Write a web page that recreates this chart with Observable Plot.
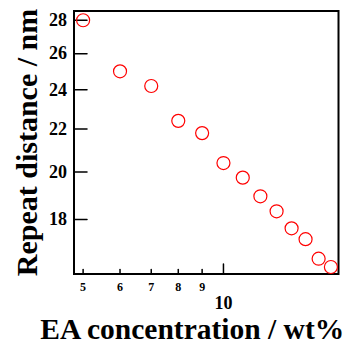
<!DOCTYPE html>
<html>
<head>
<meta charset="utf-8">
<script src="https://cdn.jsdelivr.net/npm/d3@7"></script>
<script src="https://cdn.jsdelivr.net/npm/@observablehq/plot@0.6"></script>
<style>
  html, body { margin: 0; padding: 0; background: #fff; }
</style>
</head>
<body>
<div id="chart"></div>
<script>
const concentration = [5, 6, 7, 8, 9, 10, 11, 12, 13, 14, 15, 16, 17];
const distance = [28.0, 25.0, 24.2, 22.4, 21.8, 20.4, 19.75, 18.95, 18.33, 17.65, 17.23, 16.5, 16.2];
const xMinorTicks = [5, 6, 7, 8, 9];
const xMajorTicks = [10];
const yTicks = [18, 20, 22, 24, 26, 28];
const xTitle = "EA concentration / wt%";
const yTitle = "Repeat distance / nm";

const data = concentration.map((c, i) => ({c, d: distance[i]}));
const tickShape = {draw(ctx, l) { ctx.moveTo(0, 0); ctx.lineTo(0, -l); }};
const font = "Liberation Serif, Times New Roman, serif";

const chart = Plot.plot({
  width: 349,
  height: 342,
  marginLeft: 73.5,
  marginRight: 11,
  marginTop: 10.5,
  marginBottom: 68.5,
  style: {fontFamily: font, fontWeight: "bold", background: "#fff", color: "#000"},
  x: {type: "log", domain: [4.78, 17.65], axis: null},
  y: {type: "log", domain: [15.95, 28.58], axis: null},
  marks: [
    Plot.vector(yTicks.slice(), {y: d => d, frameAnchor: "left", rotate: 90, anchor: "start", length: 13, shape: tickShape, stroke: "#000", strokeWidth: 1.5}),
    Plot.vector(xMinorTicks.slice(), {x: d => d, frameAnchor: "bottom", rotate: 0, anchor: "start", length: 4.5, shape: tickShape, stroke: "#000", strokeWidth: 1.5}),
    Plot.vector(xMajorTicks.slice(), {x: d => d, frameAnchor: "bottom", rotate: 0, anchor: "start", length: 10, shape: tickShape, stroke: "#000", strokeWidth: 1.5}),
    Plot.text(yTicks.slice(), {y: d => d, frameAnchor: "left", dx: -7, textAnchor: "end", lineAnchor: "middle", text: d => String(d), fontSize: 18, fontWeight: "bold", fill: "#000"}),
    Plot.text(xMinorTicks.slice(), {x: d => d, frameAnchor: "bottom", dy: 13.5, lineAnchor: "middle", text: d => String(d), fontSize: 12, fontWeight: "bold", fill: "#000"}),
    Plot.text(xMajorTicks.slice(), {x: d => d, frameAnchor: "bottom", dy: 29.5, lineAnchor: "middle", text: d => String(d), fontSize: 18, fontWeight: "bold", fill: "#000"}),
    Plot.frame({stroke: "#000", strokeWidth: 2}),
    Plot.dot(data, {x: "c", y: "d", r: 6.5, stroke: "red", strokeWidth: 1.2, fill: "none"}),
    Plot.text([xTitle], {frameAnchor: "bottom", dy: 55.5, dx: -14, fontSize: 29.5, fontWeight: "bold", fill: "#000", textAnchor: "middle", lineAnchor: "middle"}),
    Plot.text([yTitle], {frameAnchor: "left", dx: -46.5, rotate: -90, fontSize: 30, fontWeight: "bold", fill: "#000", textAnchor: "middle", lineAnchor: "middle"})
  ]
});
document.getElementById("chart").appendChild(chart);
</script>
</body>
</html>
